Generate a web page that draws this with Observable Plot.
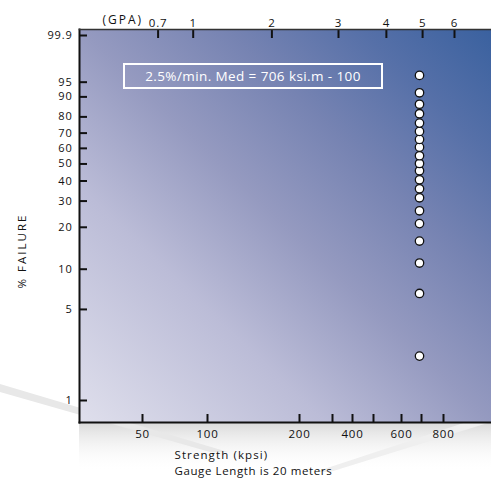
<!DOCTYPE html>
<html><head><meta charset="utf-8">
<script src="https://cdn.jsdelivr.net/npm/d3@7"></script>
<script src="https://cdn.jsdelivr.net/npm/@observablehq/plot@0.6"></script>
<style>
html,body{margin:0;padding:0;background:#fff;}
#wrap{position:relative;width:491px;height:482px;overflow:hidden;font-family:"Open Sans",sans-serif;}
#deco{position:absolute;left:0;top:0;}
#chart{position:absolute;left:0;top:0;}
#chart text{letter-spacing:0.8px;}
#note{position:absolute;left:123px;top:63px;width:256px;height:22px;border:2px solid #fff;color:#fff;font-size:13.5px;letter-spacing:0.4px;line-height:22px;text-align:center;font-family:"Open Sans",sans-serif;}
</style></head><body>
<div id="wrap">
<svg id="deco" width="491" height="482">
 <defs>
  <linearGradient id="bg" x1="0" y1="1" x2="1" y2="0">
   <stop offset="0" stop-color="#dfdfec"/>
   <stop offset="0.3" stop-color="#bbbcd7"/>
   <stop offset="0.5" stop-color="#959ac0"/>
   <stop offset="0.68" stop-color="#7683b2"/>
   <stop offset="0.84" stop-color="#5670a8"/>
   <stop offset="1" stop-color="#3a619f"/>
  </linearGradient>
  <linearGradient id="shadow" x1="0" y1="0" x2="0" y2="1">
   <stop offset="0" stop-color="#d9d9d9"/>
   <stop offset="1" stop-color="#ffffff" stop-opacity="0"/>
  </linearGradient>
 </defs>
 <rect x="79" y="422" width="412" height="50" fill="url(#shadow)"/>
 <polygon points="0,384 0,392 210,452 228,452" fill="#e8e8e8"/>
 <polygon points="491,414 491,422 330,472 315,472" fill="#efefef"/>
</svg>
<div id="chart"></div>
<div id="note"></div>
</div>
<script>
// Data
const pctTicks = [1, 5, 10, 20, 30, 40, 50, 60, 70, 80, 90, 95, 99.9];
const kpsiTicks = [50, 100, 200, 300, 400, 500, 600, 700, 800];
const kpsiLabeled = [50, 100, 200, 400, 600, 800];
const gpaTicks = [0.7, 1, 2, 3, 4, 5, 6];
const gpaAtKpsi = [62, 89, 170, 330, 546, 705, 850];
const failurePct = [2.2, 6.6, 11.1, 16.0, 21.2, 25.9, 31.5, 35.9, 40.7, 45.9, 50.3, 55.2, 60.8, 65.9, 71.1, 76.3, 81.8, 86.7, 91.6, 96.6];
const strengthKpsi = [690, 690, 690, 690, 690, 690, 690, 690, 690, 690, 690, 690, 690, 690, 690, 690, 690, 690, 690, 690];
const noteText = "2.5%/min. Med = 706 ksi.m - 100";
const xTitle = "Strength (kpsi)";
const caption = "Gauge Length is 20 meters";
const yTitle = "% FAILURE";
const topTitle = "(GPA)";

// The reference's strength axis is hand-spaced (neither linear nor log),
// so the x scale is piecewise: each tick value maps to where the reference draws it.
const xTickPlacement = [142, 207, 299, 332, 352, 373, 401, 421, 443];

const weib = p => Math.log(-Math.log(1 - p / 100));
const data = failurePct.map((p, i) => ({pct: p, kpsi: strengthKpsi[i]}));
const yLab = new Map(pctTicks.map(p => [weib(p), String(p)]));

const chart = Plot.plot({
  width: 491, height: 482,
  marginTop: 29, marginBottom: 60, marginLeft: 79, marginRight: 0,
  style: {fontFamily: "'Open Sans', sans-serif", fontSize: "12px", color: "#111", background: "transparent", overflow: "visible"},
  x: {type: "linear", domain: kpsiTicks, range: xTickPlacement},
  y: {type: "linear", domain: [-4.994, 2.040]},
  marks: [
    Plot.frame({fill: "url(#bg)"}),
    Plot.axisY(pctTicks.map(weib), {tickSize: -8, tickPadding: 15, tickFormat: w => yLab.get(w), strokeWidth: 2, stroke: "#111", label: null, fontSize: 11, fill: "#111"}),
    Plot.axisX(kpsiTicks, {anchor: "bottom", tickSize: -8, tickFormat: () => "", strokeWidth: 2, stroke: "#111", label: null}),
    Plot.axisX(gpaAtKpsi, {anchor: "top", tickSize: -8, tickFormat: () => "", strokeWidth: 2, stroke: "#111", label: null}),
    Plot.text(kpsiLabeled, {x: d => d, text: d => String(d), frameAnchor: "bottom", dy: 15, fontSize: 11.5, fill: "#111"}),
    Plot.text(gpaAtKpsi, {x: d => d, text: (d, i) => String(gpaTicks[i]), frameAnchor: "top", dy: -11, fontSize: 11.5, fill: "#111"}),
    Plot.frame({anchor: "left", stroke: "#111", strokeWidth: 2}),
    Plot.frame({anchor: "bottom", stroke: "#111", strokeWidth: 2}),
    Plot.frame({anchor: "top", stroke: "#333", strokeWidth: 1.5}),
    Plot.dot(data, {x: "kpsi", y: d => weib(d.pct), r: 4.2, fill: "white", stroke: "#111", strokeWidth: 1.3}),
    Plot.text([yTitle], {frameAnchor: "left", textAnchor: "middle", rotate: -90, dx: -57, dy: 25, fontSize: 11.5, fill: "#111"}),
    Plot.text([topTitle], {frameAnchor: "top-left", textAnchor: "start", dx: 23, dy: -14, fontSize: 12, fill: "#111"}),
    Plot.text([xTitle], {frameAnchor: "bottom-left", textAnchor: "start", dx: 95, dy: 36, fontSize: 11.5, fill: "#111"}),
    Plot.text([caption], {frameAnchor: "bottom-left", textAnchor: "start", dx: 95, dy: 52, fontSize: 11.5, fill: "#111"})
  ]
});
document.getElementById("chart").appendChild(chart);
document.getElementById("note").textContent = noteText;
const sel = d3.select(chart).selectAll("text");
sel.filter(function(){ return this.textContent === yTitle || this.textContent === topTitle; }).style("letter-spacing", "2px");
sel.filter(function(){ return this.textContent === xTitle; }).style("letter-spacing", "1.1px");
sel.filter(function(){ return this.textContent === caption; }).style("letter-spacing", "0.6px");
</script>
</body></html>
